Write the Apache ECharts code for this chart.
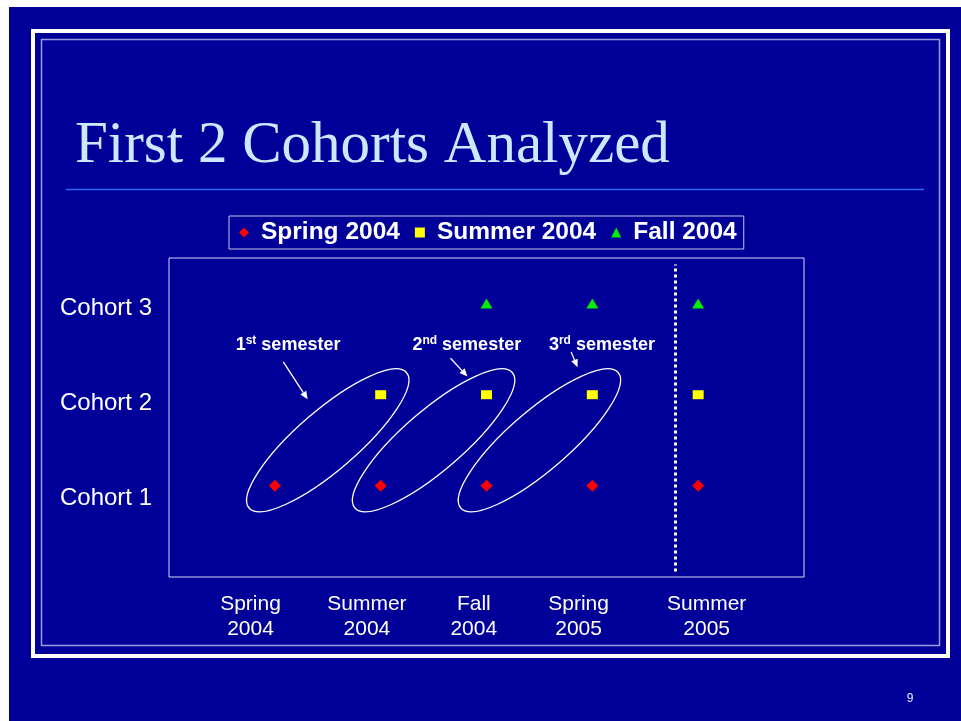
<!DOCTYPE html>
<html>
<head>
<meta charset="utf-8">
<script src="https://cdn.jsdelivr.net/npm/echarts@6/dist/echarts.min.js"></script>
<style>
html, body { margin: 0; padding: 0; background: #fff; }
#main { width: 961px; height: 721px; }
</style>
</head>
<body>
<div id="main"></div>
<script>
// terms on the x axis, cohorts on the y axis
var terms = ['Spring\n2004', 'Summer\n2004', 'Fall\n2004', 'Spring\n2005', 'Summer\n2005'];
var cohorts = ['Cohort 1', 'Cohort 2', 'Cohort 3'];
var seriesNames = ['Spring 2004', 'Summer 2004', 'Fall 2004'];

// term numbers (1 = Spring 2004) at which each cohort was seen
var spring2004Terms = [1, 2, 3, 4, 5];
var summer2004Terms = [2, 3, 4, 5];
var fall2004Terms = [3, 4, 5];

// semester rings: from [term, cohort] to [term, cohort]
var semesterLinks = [[1, 1, 2, 2], [2, 1, 3, 2], [3, 1, 4, 2]];
var semesterNums = ['1', '2', '3'];
var semesterSuffix = ['st', 'nd', 'rd'];

// layout helpers (axis units)
var termLabelAt = [0.77, 1.87, 2.88, 3.87, 5.08];
var cohortLabelAt = [0.86, 1.9, 2.95];
var cutoffAt = 4.78;
var noteTextAt = [[0.63, 2.55], [2.30, 2.55], [3.59, 2.55]];
var noteArrowAt = [[1.08, 2.36, 1.31, 1.95], [2.66, 2.40, 2.82, 2.20], [3.80, 2.47, 3.86, 2.30]];

var sans = "'Liberation Sans', Arial, sans-serif";

function toPoints(list, cohort) {
  return list.map(function (t) { return [t, cohort]; });
}

function pickLabel(list, labels, v) {
  for (var i = 0; i < list.length; i++) {
    if (Math.abs(list[i] - v) < 1e-6) return labels[i];
  }
  return '';
}

var chartDom = document.getElementById('main');
var myChart = echarts.init(chartDom, null, { renderer: 'canvas' });

var option = {
  backgroundColor: '#fff',
  animation: false,
  title: {
    text: 'First 2 Cohorts Analyzed',
    left: 70,
    top: 112,
    textStyle: {
      fontFamily: "'Liberation Serif', 'Times New Roman', serif",
      fontSize: 59,
      fontWeight: 'normal',
      color: '#cce8ff'
    }
  },
  legend: {
    left: 229,
    top: 216,
    padding: [4, 7, 4, 10],
    borderColor: '#c4c4e4',
    borderWidth: 1,
    itemWidth: 10,
    itemHeight: 10,
    itemGap: 15,
    data: [
      { name: seriesNames[0], icon: 'diamond' },
      { name: seriesNames[1], icon: 'rect' },
      { name: seriesNames[2], icon: 'triangle' }
    ],
    textStyle: {
      color: '#fff',
      fontFamily: sans,
      fontWeight: 'bold',
      fontSize: 24.5,
      lineHeight: 24,
      padding: [0, 0, 0, 7]
    }
  },
  grid: {
    left: 169,
    top: 258,
    right: 157,
    bottom: 144,
    show: true,
    borderColor: '#d8d8f0',
    borderWidth: 1,
    backgroundColor: 'transparent'
  },
  xAxis: {
    type: 'value',
    min: 0,
    max: 6,
    axisLine: { show: false },
    axisTick: { show: false },
    splitLine: { show: false },
    axisLabel: {
      customValues: termLabelAt,
      formatter: function (v) { return pickLabel(termLabelAt, terms, v); },
      color: '#fff',
      fontFamily: sans,
      fontSize: 21,
      lineHeight: 25,
      margin: 15
    }
  },
  yAxis: {
    type: 'value',
    min: 0,
    max: 3.5,
    axisLine: { show: false },
    axisTick: { show: false },
    splitLine: { show: false },
    axisLabel: {
      customValues: cohortLabelAt,
      formatter: function (v) { return pickLabel(cohortLabelAt, cohorts, v); },
      color: '#fff',
      fontFamily: sans,
      fontSize: 24,
      margin: 17
    }
  },
  graphic: [
    {
      type: 'rect', z: -10, silent: true,
      shape: { x: 9, y: 7, width: 952, height: 714 },
      style: { fill: '#000099' }
    },
    {
      type: 'rect', z: -9, silent: true,
      shape: { x: 33, y: 31, width: 915, height: 625 },
      style: { fill: null, stroke: '#fff', lineWidth: 4 }
    },
    {
      type: 'rect', z: -9, silent: true,
      shape: { x: 41.5, y: 39.5, width: 898, height: 606 },
      style: { fill: null, stroke: '#9a9ae0', lineWidth: 1.5 }
    },
    {
      type: 'line', z: -9, silent: true,
      shape: { x1: 66, y1: 189.5, x2: 924, y2: 189.5 },
      style: { stroke: '#3366ee', lineWidth: 1.5 }
    },
    {
      type: 'text', silent: true,
      x: 910, y: 699,
      style: {
        text: '9', fill: '#e8e8ff', fontFamily: sans, fontSize: 12,
        align: 'center', verticalAlign: 'middle'
      }
    }
  ],
  series: [
    {
      name: seriesNames[0],
      type: 'scatter',
      symbol: 'diamond',
      symbolSize: 12,
      itemStyle: { color: '#ff0000', opacity: 1 },
      data: toPoints(spring2004Terms, 1),
      markLine: {
        silent: true,
        symbol: 'none',
        label: { show: false },
        lineStyle: { color: '#fff', type: [3, 3], width: 3, opacity: 1 },
        data: [[{ coord: [cutoffAt, 0.06] }, { coord: [cutoffAt, 3.43] }]]
      }
    },
    {
      name: seriesNames[1],
      type: 'scatter',
      symbol: 'rect',
      symbolSize: [11, 9],
      itemStyle: { color: '#ffff00', opacity: 1 },
      data: toPoints(summer2004Terms, 2)
    },
    {
      name: seriesNames[2],
      type: 'scatter',
      symbol: 'triangle',
      symbolSize: [12, 10],
      itemStyle: { color: '#00ee00', opacity: 1 },
      data: toPoints(fall2004Terms, 3)
    },
    {
      // semester rings with their notes
      type: 'custom',
      silent: true,
      encode: { x: [0, 2], y: [1, 3] },
      data: semesterLinks,
      renderItem: function (params, api) {
        var i = params.dataIndex;
        var p1 = api.coord([api.value(0), api.value(1)]);
        var p2 = api.coord([api.value(2), api.value(3)]);
        var dx = p2[0] - p1[0], dy = p2[1] - p1[1];
        var half = Math.sqrt(dx * dx + dy * dy) / 2;
        var ring = {
          type: 'ellipse',
          x: (p1[0] + p2[0]) / 2,
          y: (p1[1] + p2[1]) / 2,
          rotation: Math.atan2(-dy, dx),
          shape: { cx: 0, cy: 0, rx: half + 34, ry: 30 },
          style: { fill: null, stroke: '#fff', lineWidth: 1.3 }
        };
        var tp = api.coord(noteTextAt[i]);
        var a = noteArrowAt[i];
        var s = api.coord([a[0], a[1]]);
        var e = api.coord([a[2], a[3]]);
        var ux = e[0] - s[0], uy = e[1] - s[1];
        var len = Math.sqrt(ux * ux + uy * uy);
        ux /= len; uy /= len;
        var bx = e[0] - ux * 8, by = e[1] - uy * 8;
        var note = {
          type: 'text',
          x: tp[0], y: tp[1],
          style: {
            text: '{b|' + semesterNums[i] + '}{s|' + semesterSuffix[i] + '}{b| semester}',
            fill: '#fff',
            align: 'left',
            verticalAlign: 'middle',
            rich: {
              b: { fontFamily: sans, fontWeight: 'bold', fontSize: 18, lineHeight: 20, fill: '#fff' },
              s: { fontFamily: sans, fontWeight: 'bold', fontSize: 12, lineHeight: 12, verticalAlign: 'top', fill: '#fff' }
            }
          }
        };
        var stem = {
          type: 'line',
          shape: { x1: s[0], y1: s[1], x2: bx, y2: by },
          style: { stroke: '#fff', lineWidth: 1.3 }
        };
        var head = {
          type: 'polygon',
          shape: { points: [[e[0], e[1]], [bx - uy * 3.5, by + ux * 3.5], [bx + uy * 3.5, by - ux * 3.5]] },
          style: { fill: '#fff' }
        };
        return { type: 'group', children: [ring, stem, head, note] };
      }
    }
  ]
};

option && myChart.setOption(option);
</script>
</body>
</html>
